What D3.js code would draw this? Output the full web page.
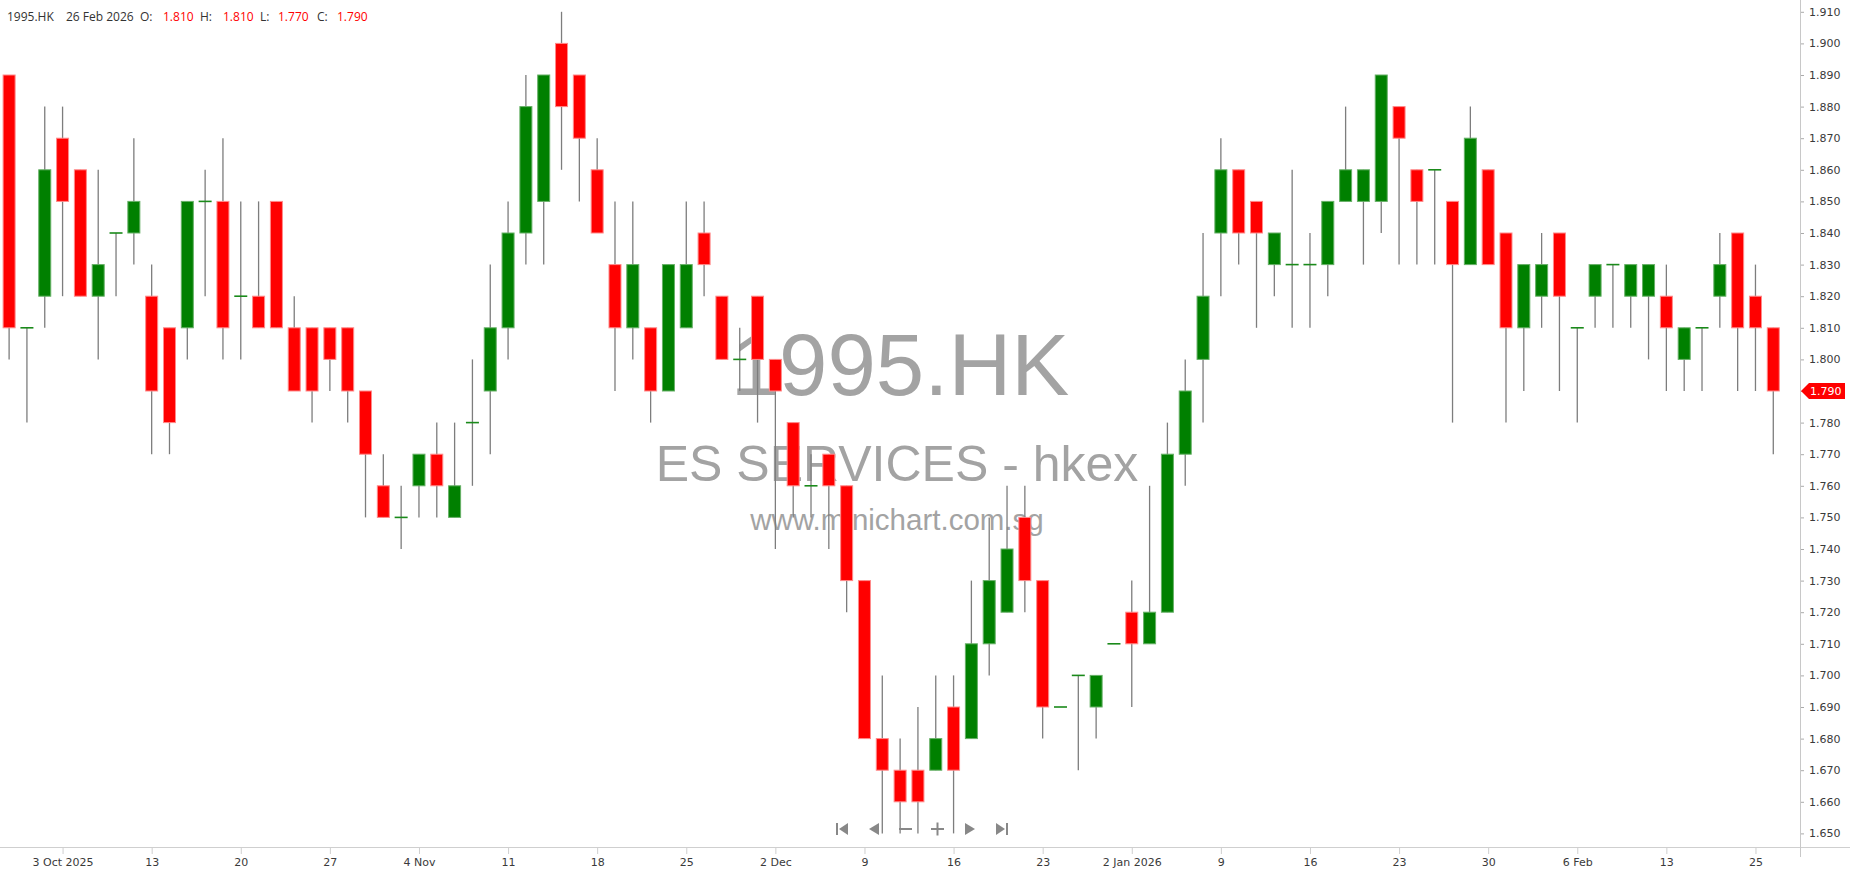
<!DOCTYPE html>
<html>
<head>
<meta charset="utf-8">
<script src="https://cdn.jsdelivr.net/npm/d3@7"></script>
<style>
  html, body { margin: 0; padding: 0; background: #fff; overflow: hidden; }
  svg { display: block; }
</style>
</head>
<body>
<svg id="chart"></svg>
<script>
const width = 1850;
const height = 874;

// daily bars, 1995.HK
const dates = [
  "2025-09-29","2025-09-30","2025-10-02","2025-10-03","2025-10-06","2025-10-08","2025-10-09","2025-10-10",
  "2025-10-13","2025-10-14","2025-10-15","2025-10-16","2025-10-17","2025-10-20","2025-10-21","2025-10-22",
  "2025-10-23","2025-10-24","2025-10-27","2025-10-28","2025-10-30","2025-10-31","2025-11-03","2025-11-04",
  "2025-11-05","2025-11-06","2025-11-07","2025-11-10","2025-11-11","2025-11-12","2025-11-13","2025-11-14",
  "2025-11-17","2025-11-18","2025-11-19","2025-11-20","2025-11-21","2025-11-24","2025-11-25","2025-11-26",
  "2025-11-27","2025-11-28","2025-12-01","2025-12-02","2025-12-03","2025-12-04","2025-12-05","2025-12-08",
  "2025-12-09","2025-12-10","2025-12-11","2025-12-12","2025-12-15","2025-12-16","2025-12-17","2025-12-18",
  "2025-12-19","2025-12-22","2025-12-23","2025-12-24","2025-12-29","2025-12-30","2025-12-31","2026-01-02",
  "2026-01-05","2026-01-06","2026-01-07","2026-01-08","2026-01-09","2026-01-12","2026-01-13","2026-01-14",
  "2026-01-15","2026-01-16","2026-01-19","2026-01-20","2026-01-21","2026-01-22","2026-01-23","2026-01-26",
  "2026-01-27","2026-01-28","2026-01-29","2026-01-30","2026-02-02","2026-02-03","2026-02-04","2026-02-05",
  "2026-02-06","2026-02-09","2026-02-10","2026-02-11","2026-02-12","2026-02-13","2026-02-16","2026-02-20",
  "2026-02-23","2026-02-24","2026-02-25","2026-02-26"
];
const opens = [
  1.89,1.81,1.82,1.87,1.86,1.82,1.84,1.84,1.82,1.81,1.81,1.85,1.85,1.82,1.82,1.85,
  1.81,1.81,1.81,1.81,1.79,1.76,1.75,1.76,1.77,1.75,1.78,1.79,1.81,1.84,1.85,1.90,
  1.89,1.86,1.83,1.81,1.81,1.79,1.81,1.84,1.82,1.80,1.82,1.80,1.78,1.76,1.77,1.76,
  1.73,1.68,1.67,1.67,1.67,1.69,1.68,1.71,1.72,1.75,1.73,1.69,1.70,1.69,1.71,1.72,
  1.71,1.72,1.77,1.80,1.84,1.86,1.85,1.83,1.83,1.83,1.83,1.85,1.85,1.85,1.88,1.86,
  1.86,1.85,1.83,1.86,1.84,1.81,1.82,1.84,1.81,1.82,1.83,1.82,1.82,1.82,1.80,1.81,
  1.82,1.84,1.82,1.81
];
const highs = [
  1.89,1.81,1.88,1.88,1.86,1.86,1.84,1.87,1.83,1.81,1.85,1.86,1.87,1.85,1.85,1.85,
  1.82,1.81,1.81,1.81,1.79,1.77,1.76,1.77,1.78,1.78,1.80,1.83,1.85,1.89,1.89,1.91,
  1.89,1.87,1.85,1.85,1.81,1.83,1.85,1.85,1.82,1.81,1.82,1.80,1.78,1.77,1.77,1.76,
  1.73,1.70,1.68,1.69,1.70,1.70,1.73,1.75,1.76,1.76,1.73,1.69,1.70,1.70,1.71,1.73,
  1.76,1.78,1.80,1.84,1.87,1.86,1.85,1.84,1.86,1.84,1.85,1.88,1.86,1.89,1.88,1.86,
  1.86,1.85,1.88,1.86,1.84,1.83,1.84,1.84,1.81,1.83,1.83,1.83,1.83,1.83,1.81,1.81,
  1.84,1.84,1.83,1.81
];
const lows = [
  1.80,1.78,1.81,1.82,1.82,1.80,1.82,1.83,1.77,1.77,1.80,1.82,1.80,1.80,1.81,1.81,
  1.79,1.78,1.79,1.78,1.75,1.75,1.74,1.75,1.75,1.75,1.76,1.77,1.80,1.83,1.83,1.86,
  1.85,1.84,1.79,1.80,1.78,1.79,1.81,1.82,1.80,1.79,1.78,1.74,1.75,1.75,1.74,1.72,
  1.68,1.65,1.65,1.65,1.67,1.65,1.68,1.70,1.72,1.72,1.68,1.69,1.67,1.68,1.71,1.69,
  1.71,1.72,1.76,1.78,1.82,1.83,1.81,1.82,1.81,1.81,1.82,1.85,1.83,1.84,1.83,1.83,
  1.83,1.78,1.83,1.83,1.78,1.79,1.81,1.79,1.78,1.81,1.81,1.81,1.80,1.79,1.79,1.79,
  1.81,1.79,1.79,1.77
];
const closes = [
  1.81,1.81,1.86,1.85,1.82,1.83,1.84,1.85,1.79,1.78,1.85,1.85,1.81,1.82,1.81,1.81,
  1.79,1.79,1.80,1.79,1.77,1.75,1.75,1.77,1.76,1.76,1.78,1.81,1.84,1.88,1.89,1.88,
  1.87,1.84,1.81,1.83,1.79,1.83,1.83,1.83,1.80,1.80,1.80,1.79,1.76,1.76,1.76,1.73,
  1.68,1.67,1.66,1.66,1.68,1.67,1.71,1.73,1.74,1.73,1.69,1.69,1.70,1.70,1.71,1.71,
  1.72,1.77,1.79,1.82,1.86,1.84,1.84,1.84,1.83,1.83,1.85,1.86,1.86,1.89,1.87,1.85,
  1.86,1.83,1.87,1.83,1.81,1.83,1.83,1.82,1.81,1.83,1.83,1.83,1.83,1.81,1.81,1.81,
  1.83,1.81,1.81,1.79
];

const tickDates = ["2025-10-03","2025-10-13","2025-10-20","2025-10-27","2025-11-04","2025-11-11","2025-11-18",
  "2025-11-25","2025-12-02","2025-12-09","2025-12-16","2025-12-23","2026-01-02","2026-01-09","2026-01-16",
  "2026-01-23","2026-01-30","2026-02-06","2026-02-13","2026-02-25"];
const tickLabels = ["3 Oct 2025","13","20","27","4 Nov","11","18","25","2 Dec","9","16","23","2 Jan 2026",
  "9","16","23","30","6 Feb","13","25"];
const priceTicks = d3.range(165, 192).map(v => v / 100);

const bars = dates.map((d, i) => ({date: d, o: opens[i], h: highs[i], l: lows[i], c: closes[i]}));
const last = bars[bars.length - 1];

const svg = d3.select('#chart').attr('width', width).attr('height', height);

const x = d3.scalePoint().domain(dates).range([0.2, 1782.2]).padding(0.5);
const y = d3.scaleLinear().domain([1.65, 1.91]).range([833.4, 11.8]);
const bodyW = 12;

// watermark
const wm = svg.append('g').attr('fill', '#a3a3a3').attr('font-family', 'Liberation Sans, Arial, sans-serif')
    .attr('text-anchor', 'middle');
wm.append('text').attr('x', 900).attr('y', 395).attr('font-size', 87).text('1995.HK');
wm.append('text').attr('x', 897).attr('y', 481).attr('font-size', 50).text('ES SERVICES - hkex');
wm.append('text').attr('x', 897).attr('y', 530).attr('font-size', 29.5).text('www.minichart.com.sg');

// candles
const candles = svg.append('g').selectAll('g').data(bars).enter().append('g');

candles.append('line')
    .attr('x1', d => x(d.date)).attr('x2', d => x(d.date))
    .attr('y1', d => y(d.h)).attr('y2', d => y(d.l))
    .style('stroke', '#7d7d7d').style('stroke-width', 1.3);

candles.filter(d => d.o !== d.c).append('rect')
    .attr('x', d => x(d.date) - bodyW / 2)
    .attr('width', bodyW)
    .attr('y', d => y(Math.max(d.o, d.c)))
    .attr('height', d => Math.abs(y(d.o) - y(d.c)))
    .style('fill', d => d.c > d.o ? '#008000' : '#ff0000')
    .style('stroke', d => d.c > d.o ? '#66b066' : '#ff8a8a')
    .style('stroke-width', 1);

candles.filter(d => d.o === d.c).append('line')
    .attr('x1', d => x(d.date) - bodyW / 2 - 0.5).attr('x2', d => x(d.date) + bodyW / 2 + 0.5)
    .attr('y1', d => y(d.c)).attr('y2', d => y(d.c))
    .style('stroke', '#1a8a1a').style('stroke-width', 1.6);

// x axis
svg.append('line').attr('x1', 0).attr('x2', width).attr('y1', 847.5).attr('y2', 847.5)
    .style('stroke', '#cfcfcf');
const xAxis = svg.append('g').attr('transform', 'translate(0,848)')
    .call(d3.axisBottom(x).tickValues(tickDates).tickFormat((d, i) => tickLabels[i]).tickSize(6).tickPadding(4));
xAxis.select('.domain').remove();
xAxis.selectAll('line').style('stroke', '#cfcfcf');
xAxis.selectAll('text').style('font-family', 'DejaVu Sans, sans-serif').style('font-size', '11px')
    .style('fill', '#3a3a3a');

// y axis
svg.append('line').attr('x1', 1800.5).attr('x2', 1800.5).attr('y1', 0).attr('y2', 857)
    .style('stroke', '#c8c8c8');
const yAxis = svg.append('g').attr('transform', 'translate(1801,0)')
    .call(d3.axisRight(y).tickValues(priceTicks).tickFormat(d3.format('.3f')).tickSize(3).tickPadding(5));
yAxis.select('.domain').remove();
yAxis.selectAll('line').style('stroke', '#aaa');
yAxis.selectAll('text').style('font-family', 'DejaVu Sans, sans-serif').style('font-size', '11px')
    .style('fill', '#3a3a3a');

// last price tag
const ty = y(last.c);
svg.append('path')
    .attr('d', `M1801,${ty} L1809,${ty - 8} L1845,${ty - 8} L1845,${ty + 8} L1809,${ty + 8} Z`)
    .style('fill', '#ff0000');
svg.append('text').attr('x', 1810).attr('y', ty).attr('dy', '0.35em')
    .style('font-family', 'DejaVu Sans, sans-serif').style('font-size', '11px').style('fill', '#fff')
    .text(d3.format('.3f')(last.c));

// header
const fmtDate = d3.timeFormat('%-d %b %Y');
const header = [
  {t: '1995.HK', x: 7, c: '#333'},
  {t: fmtDate(new Date(last.date + 'T00:00:00')), x: 66, c: '#333'},
  {t: 'O:', x: 140, c: '#333'}, {t: d3.format('.3f')(last.o), x: 163, c: '#ff0000'},
  {t: 'H:', x: 200, c: '#333'}, {t: d3.format('.3f')(last.h), x: 223, c: '#ff0000'},
  {t: 'L:', x: 260, c: '#333'}, {t: d3.format('.3f')(last.l), x: 278, c: '#ff0000'},
  {t: 'C:', x: 317, c: '#333'}, {t: d3.format('.3f')(last.c), x: 337, c: '#ff0000'}
];
svg.append('g').selectAll('text').data(header).enter().append('text')
    .attr('x', d => d.x).attr('y', 21)
    .style('font-family', 'Open Sans, sans-serif').style('font-size', '12px')
    .style('fill', d => d.c).text(d => d.t);

// navigation buttons
const nav = svg.append('g').style('fill', '#888').style('stroke', '#888');
const ny = 829;
nav.append('rect').attr('x', 836).attr('y', ny - 6).attr('width', 2).attr('height', 12).style('stroke', 'none');
nav.append('path').attr('d', `M839,${ny} L848,${ny - 6} L848,${ny + 6} Z`).style('stroke', 'none');
nav.append('path').attr('d', `M869,${ny} L879,${ny - 6} L879,${ny + 6} Z`).style('stroke', 'none');
nav.append('line').attr('x1', 899).attr('x2', 912).attr('y1', ny).attr('y2', ny).style('stroke-width', 2);
nav.append('line').attr('x1', 931).attr('x2', 944).attr('y1', ny).attr('y2', ny).style('stroke-width', 2);
nav.append('line').attr('x1', 937.5).attr('x2', 937.5).attr('y1', ny - 6.5).attr('y2', ny + 6.5).style('stroke-width', 2);
nav.append('path').attr('d', `M965,${ny - 6} L975,${ny} L965,${ny + 6} Z`).style('stroke', 'none');
nav.append('path').attr('d', `M996,${ny - 6} L1005,${ny} L996,${ny + 6} Z`).style('stroke', 'none');
nav.append('rect').attr('x', 1006).attr('y', ny - 6).attr('width', 2).attr('height', 12).style('stroke', 'none');
</script>
</body>
</html>
